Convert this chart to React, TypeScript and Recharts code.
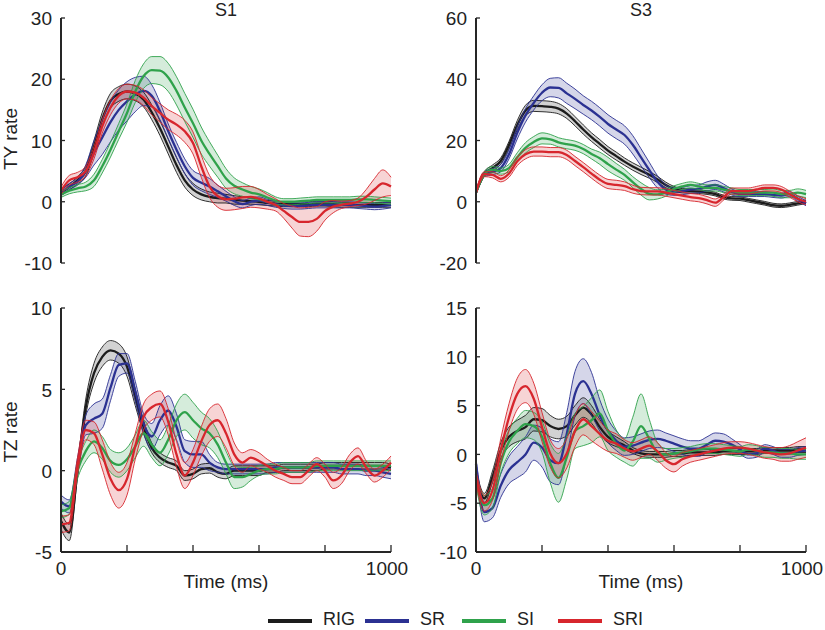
import React from "react";
import { ComposedChart, Area, Line, XAxis, YAxis } from "recharts";

// time grid (ms)
const TIME = [
  0, 25, 50, 75, 100, 125, 150, 175, 200, 225,
  250, 275, 300, 325, 350, 375, 400, 425, 450, 475,
  500, 525, 550, 575, 600, 625, 650, 675, 700, 725,
  750, 775, 800, 825, 850, 875, 900, 925, 950, 975,
  1000,
];

// ---- TY rate, S1 ----
const tyS1Rig = [
  1.5, 2.4, 3.5, 5.0, 9.0, 13.5, 16.5, 17.6, 18.0, 17.7,
  16.7, 14.6, 12.0, 9.0, 6.0, 3.5, 2.0, 1.2, 0.8, 0.6,
  0.5, 0.3, 0.2, 0.1, 0.0, -0.2, -0.3, -0.4, -0.4, -0.4,
  -0.4, -0.3, -0.3, -0.4, -0.5, -0.5, -0.5, -0.5, -0.5, -0.5,
  -0.5,
];
const tyS1RigErr = [
  0.5, 0.5, 0.6, 0.8, 1.0, 1.1, 1.2, 1.2, 1.2, 1.2,
  1.2, 1.2, 1.2, 1.2, 1.2, 1.1, 1.0, 0.9, 0.8, 0.8,
  0.7, 0.7, 0.6, 0.5, 0.5, 0.4, 0.4, 0.4, 0.4, 0.4,
  0.4, 0.4, 0.4, 0.4, 0.4, 0.4, 0.4, 0.4, 0.4, 0.4,
  0.4,
];
const tyS1Sr = [
  1.5, 2.5, 3.3, 5.0, 8.0, 10.5, 13.0, 15.0, 16.4, 17.5,
  18.1, 17.3, 14.8, 11.5, 8.5, 5.8, 3.9, 3.1, 2.5, 1.7,
  0.9, 0.1, -0.4, 0.0, 0.2, -0.1, -0.4, -0.6, -0.7, -0.7,
  -0.6, -0.5, -0.5, -0.5, -0.5, -0.5, -0.6, -0.7, -0.8, -0.7,
  -0.5,
];
const tyS1SrErr = [
  0.5, 0.5, 0.6, 1.0, 2.0, 2.8, 3.2, 3.3, 3.2, 2.8,
  2.4, 1.8, 1.4, 1.2, 1.2, 1.2, 1.2, 1.3, 1.3, 1.0,
  0.8, 0.7, 0.6, 0.6, 0.6, 0.5, 0.5, 0.5, 0.5, 0.5,
  0.5, 0.5, 0.5, 0.5, 0.5, 0.5, 0.5, 0.5, 0.5, 0.5,
  0.5,
];
const tyS1Si = [
  1.2, 1.8, 2.2, 2.5, 3.5, 5.8, 8.5, 11.5, 14.5, 18.0,
  20.5, 21.5, 21.4, 20.3, 18.1, 15.4, 12.8, 10.0, 7.8, 5.8,
  3.8, 2.6, 2.0, 1.5, 1.2, 0.7, 0.2, 0.0, 0.0, 0.1,
  0.2, 0.3, 0.3, 0.3, 0.3, 0.3, 0.4, 0.4, 0.3, 0.2,
  0.1,
];
const tyS1SiErr = [
  0.5, 0.5, 0.6, 0.7, 1.0, 1.1, 1.2, 1.3, 1.5, 1.8,
  2.0, 2.2, 2.3, 2.3, 2.3, 2.3, 2.3, 2.2, 2.0, 1.8,
  1.6, 1.3, 1.1, 1.0, 0.9, 0.8, 0.6, 0.5, 0.5, 0.5,
  0.5, 0.5, 0.5, 0.5, 0.5, 0.5, 0.5, 0.5, 0.5, 0.5,
  0.5,
];
const tyS1Sri = [
  1.8, 3.5, 4.0, 5.0, 8.0, 12.3, 15.4, 17.3, 18.0, 17.8,
  17.0, 15.6, 14.5, 13.4, 12.6, 11.5, 9.6, 5.8, 2.5, 0.9,
  0.4, 0.5, 0.7, 0.8, 0.5, 0.0, -0.5, -1.5, -2.5, -3.3,
  -3.3, -2.8, -1.5, -0.8, -0.5, -0.3, 0.0, 0.8, 2.0, 3.0,
  2.5,
];
const tyS1SriErr = [
  0.6, 0.8, 0.8, 0.8, 1.0, 1.1, 1.2, 1.2, 1.2, 1.2,
  1.3, 1.4, 1.5, 1.6, 1.7, 1.8, 1.8, 1.8, 1.8, 1.8,
  1.8, 1.8, 1.8, 1.7, 1.5, 1.2, 1.0, 1.2, 1.8, 2.3,
  2.4, 2.0, 1.5, 1.0, 0.6, 0.5, 0.6, 1.2, 1.8, 2.2,
  1.5,
];

// ---- TY rate, S3 ----
const tyS3Rig = [
  3.0, 9.0, 11.0, 13.3, 18.5, 25.0, 29.8, 31.3, 31.2, 31.0,
  30.4, 28.8, 26.3, 23.6, 21.1, 18.9, 16.7, 14.9, 13.1, 11.5,
  10.1, 8.8, 7.3, 5.5, 4.2, 3.6, 3.5, 3.3, 3.0, 2.5,
  1.5, 1.1, 1.0, 0.5, 0.0, -0.5, -1.1, -1.3, -1.0, -0.5,
  0.0,
];
const tyS3RigErr = [
  0.5, 0.8, 1.0, 1.0, 1.2, 1.5, 1.7, 1.8, 1.8, 1.8,
  1.7, 1.6, 1.5, 1.5, 1.4, 1.4, 1.3, 1.3, 1.2, 1.2,
  1.2, 1.1, 1.0, 0.9, 0.8, 0.7, 0.7, 0.6, 0.6, 0.6,
  0.6, 0.6, 0.6, 0.6, 0.6, 0.6, 0.6, 0.6, 0.6, 0.6,
  0.6,
];
const tyS3Sr = [
  3.0, 9.0, 9.8, 11.0, 15.5, 22.5, 28.2, 32.3, 35.6, 37.3,
  37.2, 35.4, 33.6, 31.6, 29.8, 27.7, 25.4, 23.6, 21.8, 18.6,
  14.5, 10.4, 6.5, 4.0, 3.3, 3.5, 4.0, 4.2, 5.0, 5.5,
  4.5, 3.2, 2.5, 2.5, 2.5, 2.5, 2.2, 2.0, 2.5, 1.0,
  -0.5,
];
const tyS3SrErr = [
  0.5, 0.8, 1.0, 1.2, 1.5, 2.0, 2.2, 2.3, 2.6, 3.0,
  3.3, 3.3, 3.2, 3.0, 3.0, 3.0, 3.0, 3.0, 3.0, 3.0,
  2.8, 2.5, 2.0, 1.5, 1.2, 1.2, 1.3, 1.3, 1.5, 1.5,
  1.3, 1.0, 0.8, 0.8, 0.8, 0.8, 0.8, 0.8, 0.8, 0.8,
  0.8,
];
const tyS3Si = [
  3.0, 9.0, 10.5, 10.0, 11.0, 14.5, 17.6, 19.5, 20.7, 20.4,
  19.4, 18.8, 18.3, 17.2, 15.6, 14.2, 12.3, 10.5, 8.8, 6.4,
  4.2, 2.6, 2.4, 3.0, 4.2, 5.0, 5.5, 5.0, 4.5, 4.5,
  4.0, 3.5, 3.0, 3.0, 3.0, 3.0, 3.0, 2.5, 2.5, 3.0,
  2.5,
];
const tyS3SiErr = [
  0.5, 0.8, 1.0, 1.0, 1.2, 1.5, 1.7, 1.8, 1.8, 1.6,
  1.5, 1.5, 1.5, 1.5, 1.6, 2.0, 2.2, 2.0, 1.8, 1.8,
  2.0, 2.0, 1.5, 1.2, 1.0, 1.0, 1.0, 1.0, 1.0, 1.0,
  1.0, 1.0, 1.0, 1.0, 1.0, 1.0, 1.2, 1.2, 1.2, 1.2,
  1.2,
];
const tyS3Sri = [
  3.0, 9.0, 8.8, 7.5, 9.2, 13.2, 15.5, 16.4, 16.4, 16.2,
  16.2, 15.3, 13.3, 11.3, 9.2, 7.2, 5.8, 5.5, 5.1, 4.1,
  3.5, 3.4, 3.4, 3.0, 2.5, 2.0, 1.5, 1.2, 0.5, -0.3,
  1.5, 3.5, 3.5, 3.5, 4.0, 4.5, 4.5, 4.0, 2.5, 1.0,
  0.0,
];
const tyS3SriErr = [
  0.5, 0.8, 1.0, 1.0, 1.2, 1.4, 1.5, 1.5, 1.5, 1.5,
  1.5, 1.5, 1.5, 1.5, 1.5, 1.5, 1.5, 1.5, 1.4, 1.3,
  1.2, 1.2, 1.2, 1.2, 1.2, 1.2, 1.2, 1.2, 1.2, 1.2,
  1.0, 1.0, 1.0, 1.0, 1.0, 1.0, 1.0, 1.0, 1.0, 1.0,
  1.0,
];

// ---- TZ rate, S1 ----
const tzS1Rig = [
  -3.1, -3.8, 0.0, 3.9, 6.0, 7.0, 7.4, 7.2, 6.4, 4.5,
  2.7, 1.4, 0.8, 0.5, 0.3, -0.3, -0.2, 0.1, 0.15, -0.1,
  -0.2, 0.0, 0.0, 0.0, 0.0, 0.1, 0.1, 0.2, 0.2, 0.2,
  0.2, 0.2, 0.3, 0.3, 0.3, 0.3, 0.3, 0.3, 0.3, 0.3,
  0.2,
];
const tzS1RigErr = [
  0.5, 0.5, 0.4, 0.5, 0.6, 0.6, 0.6, 0.6, 0.6, 0.5,
  0.4, 0.3, 0.3, 0.3, 0.3, 0.3, 0.3, 0.3, 0.3, 0.3,
  0.3, 0.3, 0.3, 0.3, 0.3, 0.2, 0.2, 0.2, 0.2, 0.2,
  0.2, 0.2, 0.2, 0.2, 0.2, 0.2, 0.2, 0.2, 0.2, 0.2,
  0.2,
];
const tzS1Sr = [
  -1.9, -2.2, 0.3, 2.8, 3.2, 3.5, 5.1, 6.5, 6.6, 4.9,
  2.9, 2.1, 3.1, 3.7, 2.7, 1.2, 1.0, 1.0, 0.5, 0.2,
  0.1, 0.1, 0.1, 0.1, 0.1, 0.1, 0.2, 0.2, 0.2, 0.2,
  0.2, 0.2, 0.2, 0.2, 0.1, 0.1, 0.1, 0.0, 0.0, -0.1,
  -0.2,
];
const tzS1SrErr = [
  0.4, 0.4, 0.5, 0.6, 0.9, 0.9, 0.8, 0.7, 0.6, 0.6,
  0.6, 0.8, 0.9, 0.9, 0.8, 0.7, 0.8, 0.8, 0.5, 0.3,
  0.3, 0.3, 0.3, 0.3, 0.3, 0.3, 0.3, 0.3, 0.3, 0.3,
  0.3, 0.3, 0.3, 0.3, 0.3, 0.3, 0.3, 0.3, 0.3, 0.3,
  0.3,
];
const tzS1Si = [
  -2.5, -2.3, 0.0, 1.2, 1.8, 1.4, 0.6, 0.35, 0.7, 1.5,
  2.3, 1.6, 1.1, 1.9, 3.1, 3.6, 3.1, 2.6, 2.3, 1.6,
  0.5, -0.4, -0.4, -0.2, 0.0, 0.1, 0.1, 0.2, 0.2, 0.2,
  0.2, 0.3, 0.3, 0.3, 0.3, 0.3, 0.3, 0.3, 0.3, 0.3,
  0.3,
];
const tzS1SiErr = [
  0.4, 0.4, 0.5, 0.6, 0.7, 0.7, 0.7, 0.75, 0.7, 0.7,
  0.8, 0.8, 0.8, 0.9, 1.0, 1.1, 1.1, 1.0, 0.9, 0.8,
  0.7, 0.7, 0.6, 0.4, 0.3, 0.3, 0.3, 0.3, 0.3, 0.3,
  0.3, 0.3, 0.3, 0.3, 0.3, 0.3, 0.3, 0.3, 0.3, 0.3,
  0.3,
];
const tzS1Sri = [
  -3.3, -3.2, 0.3, 2.5, 2.3, 1.0, -0.5, -1.2, -0.5, 1.5,
  3.3, 3.9, 4.1, 3.0, 1.0, -0.3, 0.5, 1.8, 2.8, 3.1,
  2.3, 1.0, 0.5, 0.8, 0.6, 0.3, 0.0, -0.2, -0.4, -0.4,
  0.0, 0.4, 0.0, -0.6, -0.3, 0.5, 0.9, 0.2, -0.3, 0.0,
  0.5,
];
const tzS1SriErr = [
  0.5, 0.5, 0.5, 0.6, 0.7, 0.9, 1.0, 1.1, 1.0, 0.8,
  0.8, 0.8, 0.8, 0.8, 0.8, 0.8, 0.8, 0.9, 1.0, 1.0,
  0.9, 0.7, 0.6, 0.5, 0.5, 0.4, 0.4, 0.4, 0.4, 0.4,
  0.4, 0.4, 0.4, 0.5, 0.5, 0.5, 0.5, 0.4, 0.4, 0.4,
  0.4,
];

// ---- TZ rate, S3 ----
const tzS3Rig = [
  -2.0, -4.5, -2.3, 0.4, 1.8, 2.4, 2.8, 3.6, 3.5, 2.9,
  2.6, 2.9, 4.0, 4.8, 4.1, 2.8, 1.8, 1.3, 0.9, 0.4,
  0.1, 0.0, 0.0, 0.0, 0.1, 0.1, 0.2, 0.2, 0.2, 0.2,
  0.3, 0.3, 0.3, 0.3, 0.3, 0.4, 0.4, 0.4, 0.4, 0.5,
  0.5,
];
const tzS3RigErr = [
  0.5, 0.5, 0.6, 0.8, 1.0, 1.1, 1.2, 1.2, 1.2, 1.1,
  1.0, 1.0, 1.0, 1.0, 0.9, 0.8, 0.6, 0.5, 0.4, 0.3,
  0.3, 0.3, 0.3, 0.3, 0.3, 0.3, 0.3, 0.3, 0.3, 0.3,
  0.3, 0.3, 0.3, 0.3, 0.3, 0.3, 0.3, 0.3, 0.3, 0.3,
  0.3,
];
const tzS3Sr = [
  -1.0, -5.9, -5.5, -3.2, -1.6, -0.8, 0.0, 1.2, 0.7, -0.6,
  -0.9, 2.1, 6.2, 7.5, 6.2, 4.0, 2.4, 1.4, 0.8, 0.9,
  1.2, 1.5, 1.6, 1.4, 1.1, 0.8, 0.6, 0.6, 1.0, 1.4,
  1.3, 1.0, 0.5, 0.0, 0.1, 0.6, 0.4, 0.1, 0.1, 0.3,
  0.4,
];
const tzS3SrErr = [
  0.6, 1.0, 1.0, 1.2, 1.4, 1.6, 1.8, 1.8, 2.0, 2.2,
  2.2, 2.2, 2.3, 2.3, 2.2, 1.6, 1.2, 1.0, 0.9, 0.9,
  0.9, 0.9, 0.9, 0.8, 0.8, 0.8, 0.8, 0.8, 0.8, 0.8,
  0.8, 0.6, 0.5, 0.4, 0.4, 0.4, 0.4, 0.4, 0.4, 0.4,
  0.4,
];
const tzS3Si = [
  -2.6, -5.2, -4.5, -0.9, 1.3, 2.4, 3.1, 2.9, 1.8, -0.9,
  -2.4, -0.3, 2.4, 2.9, 3.5, 4.2, 2.4, 1.1, 0.4, 1.3,
  2.9, 1.6, 0.2, 0.0, 0.1, 0.2, 0.3, 0.5, 0.6, 0.6,
  0.5, 0.4, 0.3, 0.5, 0.4, 0.2, 0.2, 0.1, 0.1, 0.0,
  0.0,
];
const tzS3SiErr = [
  0.6, 1.0, 1.0, 1.0, 1.2, 1.3, 1.4, 1.4, 1.6, 2.0,
  2.5, 2.2, 1.8, 2.0, 2.3, 2.4, 2.0, 1.4, 1.2, 2.5,
  3.3, 2.0, 1.0, 0.6, 0.5, 0.5, 0.5, 0.5, 0.5, 0.5,
  0.5, 0.5, 0.5, 0.5, 0.5, 0.5, 0.5, 0.5, 0.5, 0.5,
  0.5,
];
const tzS3Sri = [
  -2.3, -5.0, -3.7, 0.4, 3.8, 6.2, 7.0, 5.7, 2.8, 0.1,
  -0.9, 0.1, 2.4, 3.6, 2.9, 2.1, 1.4, 1.1, 0.6, 0.3,
  0.6, 0.9, 0.3, -0.6, -1.0, -0.5, -0.2, 0.0, 0.2, 0.4,
  0.6, 0.7, 0.7, 0.6, 0.4, 0.2, 0.1, 0.0, 0.1, 0.4,
  0.7,
];
const tzS3SriErr = [
  0.6, 0.8, 1.0, 1.2, 1.4, 1.6, 1.7, 1.6, 1.5, 1.4,
  1.5, 1.5, 1.6, 1.6, 1.5, 1.3, 1.1, 1.0, 0.9, 0.9,
  0.9, 0.9, 0.9, 0.8, 0.8, 0.7, 0.6, 0.6, 0.6, 0.6,
  0.6, 0.6, 0.6, 0.6, 0.6, 0.6, 0.6, 0.7, 0.8, 0.9,
  1.0,
];

const X_TICKS = [0, 200, 400, 600, 800, 1000];
const LEGEND_LABELS = ["RIG", "SR", "SI", "SRI"];

const KEYS = ["rig", "sr", "si", "sri"];
const COLORS = ["#1c1c1c", "#2b3192", "#2fa24b", "#d7262d"];
const AXIS = "#262626";
const FONT = "'Liberation Sans', Arial, Helvetica, sans-serif";

function buildRows(means: number[][], errs: number[][]) {
  return TIME.map((t, i) => {
    const row: any = { t };
    means.forEach((m, k) => {
      const key = KEYS[k];
      const lo = m[i] - errs[k][i];
      const hi = m[i] + errs[k][i];
      row[key] = m[i];
      row[key + "Lo"] = lo;
      row[key + "Hi"] = hi;
      row[key + "Band"] = [lo, hi];
    });
    return row;
  });
}

const XTick = ({ x, y, payload }: any) => (
  <g>
    <line x1={x} x2={x} y1={y} y2={y - 7} stroke={AXIS} strokeWidth={1.3} />
    {(payload.value === 0 || payload.value === 1000) && (
      <text
        x={payload.value === 1000 ? x - 4 : x}
        y={y + 23}
        textAnchor="middle"
        fontSize={19}
        fill="#222"
        fontFamily={FONT}
      >
        {payload.value}
      </text>
    )}
  </g>
);

const YTick = ({ x, y, payload }: any) => (
  <g>
    <line x1={x} x2={x + 4} y1={y} y2={y} stroke={AXIS} strokeWidth={1.3} />
    <text x={x - 9} y={y} dy="0.38em" textAnchor="end" fontSize={19} fill="#222" fontFamily={FONT}>
      {payload.value}
    </text>
  </g>
);

function Panel({ left, top, width, rightPad, axisWidth, rows, domain, ticks, showX }: any) {
  const height = showX ? 302 : 280;
  return (
    <div style={{ position: "absolute", left, top }}>
      <ComposedChart
        width={width}
        height={height}
        data={rows}
        margin={{ top: 18, right: rightPad, bottom: showX ? 0 : 17, left: 0 }}
      >
        <XAxis
          type="number"
          dataKey="t"
          domain={[0, 1000]}
          ticks={X_TICKS}
          hide={!showX}
          height={40}
          tickSize={0}
          tickMargin={0}
          tickLine={false}
          tick={<XTick />}
          axisLine={{ stroke: AXIS, strokeWidth: 2 }}
          label={{ value: "Time (ms)", position: "insideBottom", offset: 4, fontSize: 19, fill: "#222", fontFamily: FONT }}
        />
        <YAxis
          type="number"
          domain={domain}
          ticks={ticks}
          width={axisWidth}
          tickSize={0}
          tickMargin={0}
          tickLine={false}
          tick={<YTick />}
          axisLine={{ stroke: AXIS, strokeWidth: 2 }}
          allowDataOverflow
        />
        {KEYS.map((k, i) => (
          <Area
            key={k + "band"}
            type="monotone"
            dataKey={k + "Band"}
            stroke="none"
            fill={COLORS[i]}
            fillOpacity={0.2}
            isAnimationActive={false}
            activeDot={false}
          />
        ))}
        {KEYS.flatMap((k, i) => [
          <Line key={k + "lo"} type="monotone" dataKey={k + "Lo"} stroke={COLORS[i]} strokeWidth={0.9} dot={false} activeDot={false} isAnimationActive={false} />,
          <Line key={k + "hi"} type="monotone" dataKey={k + "Hi"} stroke={COLORS[i]} strokeWidth={0.9} dot={false} activeDot={false} isAnimationActive={false} />,
          <Line key={k} type="monotone" dataKey={k} stroke={COLORS[i]} strokeWidth={2.3} dot={false} activeDot={false} isAnimationActive={false} />,
        ])}
      </ComposedChart>
    </div>
  );
}

export default function App() {
  const tyS1 = buildRows([tyS1Rig, tyS1Sr, tyS1Si, tyS1Sri], [tyS1RigErr, tyS1SrErr, tyS1SiErr, tyS1SriErr]);
  const tyS3 = buildRows([tyS3Rig, tyS3Sr, tyS3Si, tyS3Sri], [tyS3RigErr, tyS3SrErr, tyS3SiErr, tyS3SriErr]);
  const tzS1 = buildRows([tzS1Rig, tzS1Sr, tzS1Si, tzS1Sri], [tzS1RigErr, tzS1SrErr, tzS1SiErr, tzS1SriErr]);
  const tzS3 = buildRows([tzS3Rig, tzS3Sr, tzS3Si, tzS3Sri], [tzS3RigErr, tzS3SrErr, tzS3SiErr, tzS3SriErr]);

  const legendX = [268, 365, 462, 558];

  return (
    <div style={{ position: "absolute", left: 0, top: 0, width: 825, height: 630, background: "#fff", fontFamily: FONT, overflow: "hidden" }}>
      <Panel left={0} top={0} width={420} rightPad={29} axisWidth={61} rows={tyS1} domain={[-10, 30]} ticks={[-10, 0, 10, 20, 30]} showX={false} />
      <Panel left={400} top={0} width={425} rightPad={19} axisWidth={76} rows={tyS3} domain={[-20, 60]} ticks={[-20, 0, 20, 40, 60]} showX={false} />
      <Panel left={0} top={290} width={420} rightPad={29} axisWidth={61} rows={tzS1} domain={[-5, 10]} ticks={[-5, 0, 5, 10]} showX />
      <Panel left={400} top={290} width={425} rightPad={19} axisWidth={76} rows={tzS3} domain={[-10, 15]} ticks={[-10, -5, 0, 5, 10, 15]} showX />

      <svg width={825} height={630} style={{ position: "absolute", left: 0, top: 0, pointerEvents: "none" }}>
        <g fontFamily={FONT} fill="#222">
          <text x={226} y={16} fontSize={18} textAnchor="middle">S1</text>
          <text x={641} y={16} fontSize={18} textAnchor="middle">S3</text>
          <text transform="translate(17,139) rotate(-90)" fontSize={19} textAnchor="middle">TY rate</text>
          <text transform="translate(17,432) rotate(-90)" fontSize={19} textAnchor="middle">TZ rate</text>
        </g>
        {LEGEND_LABELS.map((lab, i) => (
          <g key={lab}>
            <line x1={legendX[i]} x2={legendX[i] + 44} y1={621} y2={621} stroke={COLORS[i]} strokeWidth={4} />
            <text x={legendX[i] + 55} y={625} fontSize={18} fill="#222" fontFamily={FONT}>{lab}</text>
          </g>
        ))}
      </svg>
    </div>
  );
}
